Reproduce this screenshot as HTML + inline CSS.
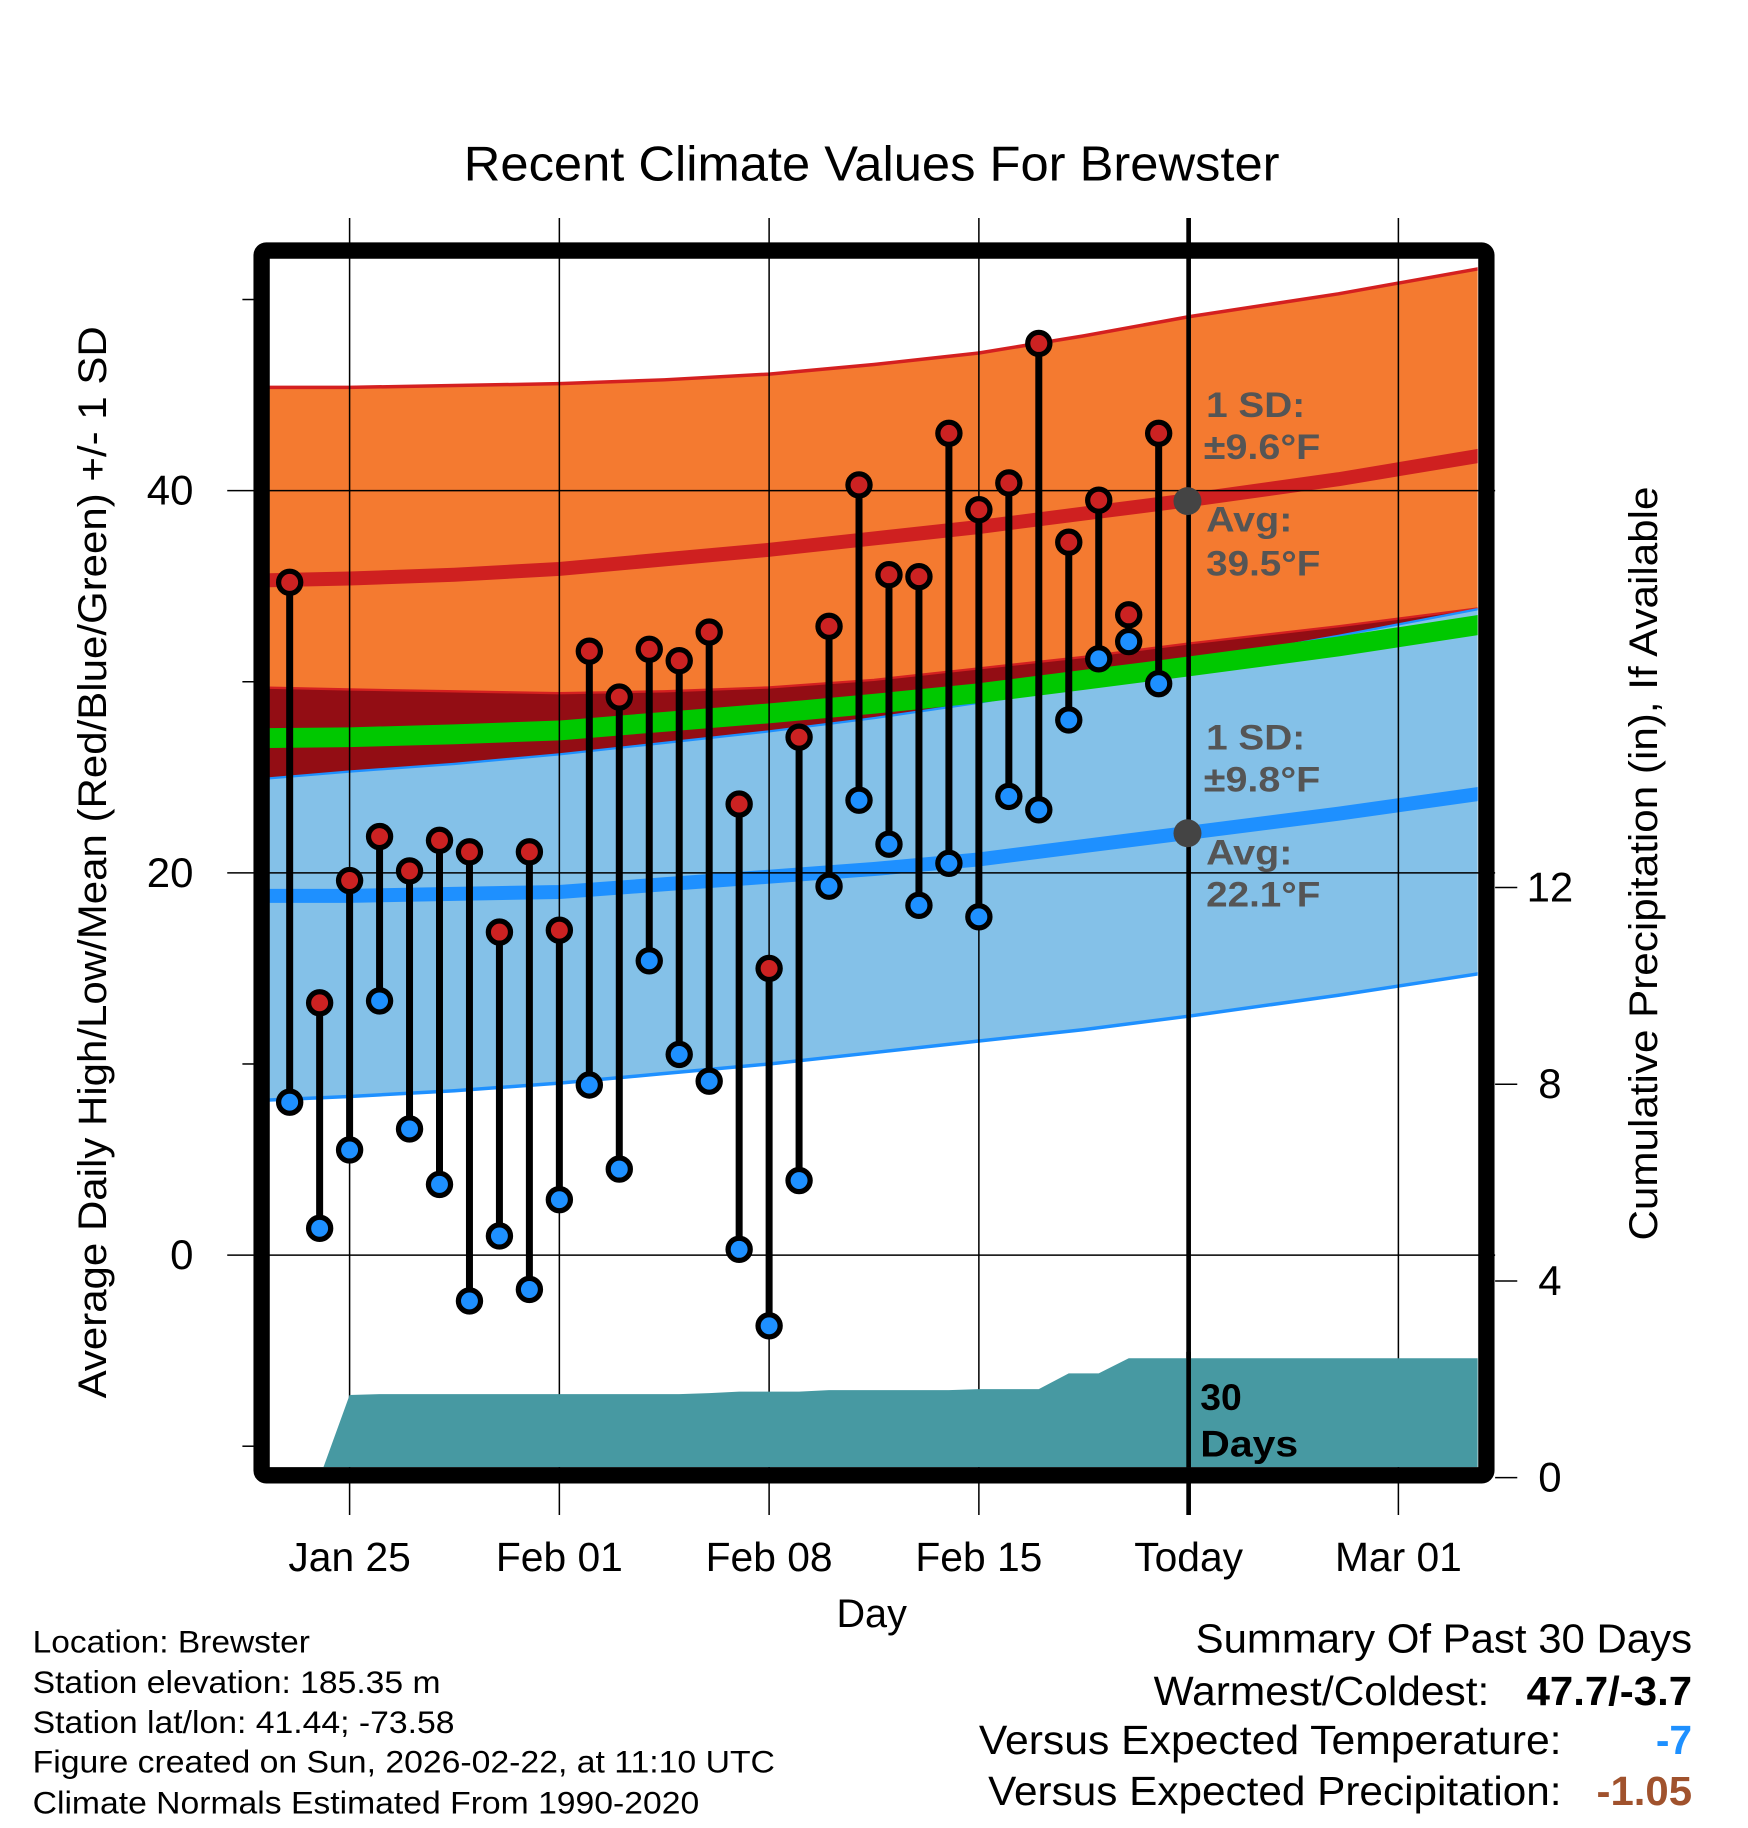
<!DOCTYPE html>
<html><head><meta charset="utf-8">
<style>html,body{margin:0;padding:0;background:#fff}svg{display:block}text{font-family:"Liberation Sans",sans-serif}</style>
</head><body>
<svg id="chart" width="1748" height="1828" viewBox="0 0 1500 1568.6" xmlns="http://www.w3.org/2000/svg">
<rect width="1500" height="1568.6" fill="#fff"/>
<text x="748" y="155" font-size="42" text-anchor="middle" textLength="700" lengthAdjust="spacingAndGlyphs">Recent Climate Values For Brewster</text>
<defs><clipPath id="pc"><rect x="231" y="222" width="1037" height="1037"/></clipPath></defs>
<g id="bands" clip-path="url(#pc)"></g>
<g id="grid"></g>
<g id="precip" clip-path="url(#pc)"></g>
<g id="marks"></g>
<rect x="224.5" y="215" width="1051" height="1051" rx="4" fill="none" stroke="#000" stroke-width="14"/>
<g id="axes"></g>
<g font-weight="bold" font-size="30" fill="#555">
<text x="1035" y="358" textLength="85" lengthAdjust="spacingAndGlyphs">1 SD:</text><text x="1033" y="394" textLength="100" lengthAdjust="spacingAndGlyphs">±9.6°F</text>
<text x="1035" y="456" textLength="74" lengthAdjust="spacingAndGlyphs">Avg:</text><text x="1035" y="494" textLength="98" lengthAdjust="spacingAndGlyphs">39.5°F</text>
<text x="1035" y="643" textLength="85" lengthAdjust="spacingAndGlyphs">1 SD:</text><text x="1033" y="679" textLength="100" lengthAdjust="spacingAndGlyphs">±9.8°F</text>
<text x="1035" y="742" textLength="74" lengthAdjust="spacingAndGlyphs">Avg:</text><text x="1035" y="778" textLength="98" lengthAdjust="spacingAndGlyphs">22.1°F</text>
</g>
<circle cx="1019" cy="430" r="12" fill="#444"/>
<circle cx="1019" cy="715" r="12" fill="#444"/>
<g font-weight="bold" font-size="32" fill="#000">
<text x="1030" y="1210">30</text><text x="1030" y="1250" textLength="84" lengthAdjust="spacingAndGlyphs">Days</text></g>
<text x="748" y="1396" font-size="34" text-anchor="middle">Day</text>
<text transform="translate(91,740) rotate(-90)" font-size="34" text-anchor="middle" textLength="920" lengthAdjust="spacingAndGlyphs">Average Daily High/Low/Mean (Red/Blue/Green) +/- 1 SD</text>
<text transform="translate(1422,741) rotate(-90)" font-size="34" text-anchor="middle" textLength="647" lengthAdjust="spacingAndGlyphs">Cumulative Precipitation (in), If Available</text>
<g font-size="27">
<text x="28" y="1418" textLength="238" lengthAdjust="spacingAndGlyphs">Location: Brewster</text>
<text x="28" y="1453" textLength="350" lengthAdjust="spacingAndGlyphs">Station elevation: 185.35 m</text>
<text x="28" y="1487" textLength="362" lengthAdjust="spacingAndGlyphs">Station lat/lon: 41.44; -73.58</text>
<text x="28" y="1521" textLength="637" lengthAdjust="spacingAndGlyphs">Figure created on Sun, 2026-02-22, at 11:10 UTC</text>
<text x="28" y="1556" textLength="572" lengthAdjust="spacingAndGlyphs">Climate Normals Estimated From 1990-2020</text>
</g>
<g font-size="35" text-anchor="end">
<text x="1452" y="1418" textLength="426" lengthAdjust="spacingAndGlyphs">Summary Of Past 30 Days</text>
<text x="1278" y="1463" textLength="288" lengthAdjust="spacingAndGlyphs">Warmest/Coldest:</text>
<text x="1452" y="1463" font-weight="bold" textLength="142" lengthAdjust="spacingAndGlyphs">47.7/-3.7</text>
<text x="1340" y="1505" textLength="500" lengthAdjust="spacingAndGlyphs">Versus Expected Temperature:</text>
<text x="1452" y="1505" font-weight="bold" fill="#1e90ff">-7</text>
<text x="1340" y="1549" textLength="492" lengthAdjust="spacingAndGlyphs">Versus Expected Precipitation:</text>
<text x="1452" y="1549" font-weight="bold" fill="#a0522d" textLength="82" lengthAdjust="spacingAndGlyphs">-1.05</text>
</g>
</svg>
<script>
// days relative to Jan 25 (0 = Jan 25)
const obsDays = [-2,-1,0,1,2,3,4,5,6,7,8,9,10,11,12,13,14,15,16,17,18,19,20,21,22,23,24,25,26,27];
const highs = [35.2,13.2,19.6,21.9,20.1,21.7,21.1,16.9,21.1,17,31.6,29.2,31.7,31.1,32.6,23.6,15,27.1,32.9,40.3,35.6,35.5,43,39,40.4,47.7,37.3,39.5,33.5,43];
const lows = [8,1.4,5.5,13.3,6.6,3.7,-2.4,1.0,-1.8,2.9,8.9,4.5,15.4,10.5,9.1,0.3,-3.7,3.9,19.3,23.8,21.5,18.3,20.5,17.7,24,23.3,28,31.2,32.1,29.9];
const normDays = [-3,0,3.5,7,10.5,14,17.5,21,24.5,28,33,38];
const highPlus = [45.4,45.4,45.5,45.6,45.8,46.1,46.6,47.2,48.1,49.1,50.3,51.7];
const meanHigh = [35.3,35.4,35.6,35.9,36.4,36.9,37.5,38.1,38.8,39.5,40.6,41.9];
const highMinus = [29.7,29.6,29.5,29.4,29.5,29.7,30.1,30.7,31.3,32.0,32.9,33.9];
const lowPlus = [24.9,25.3,25.7,26.2,26.8,27.4,28.1,28.9,29.9,31.0,32.4,33.9];
const meanLow = [18.8,18.8,18.9,19.0,19.4,19.8,20.2,20.7,21.4,22.1,23.1,24.2];
const lowMinus = [8.1,8.3,8.6,9.0,9.5,10.0,10.6,11.2,11.8,12.5,13.6,14.8];
const precipDays = [-2,-1,0,1,2,3,4,5,6,7,8,9,10,11,12,13,14,15,16,17,18,19,20,21,22,23,24,25,26,27,38];
const precipCum = [0,0,1.68,1.70,1.70,1.70,1.70,1.70,1.70,1.70,1.70,1.70,1.70,1.70,1.72,1.75,1.75,1.75,1.78,1.78,1.78,1.78,1.78,1.80,1.80,1.80,2.12,2.12,2.43,2.43,2.43];
const xTickDays = [0,7,14,21,28,35];
const xTickLabels = ['Jan 25','Feb 01','Feb 08','Feb 15','Today','Mar 01'];
const yTicks = [0,20,40];
const yMinor = [-10,10,30,50];
const y2Ticks = [0,4,8,12];

const NS='http://www.w3.org/2000/svg';
const X=d=>300+25.714*d, Y=t=>1077-16.4*t, Y2=p=>1268-42.2*p;
function mk(tag,attrs,parent){const e=document.createElementNS(NS,tag);for(const k in attrs)e.setAttribute(k,attrs[k]);parent.appendChild(e);return e;}
function pts(days,vals,f){return days.map((d,i)=>X(d).toFixed(1)+','+f(vals[i]).toFixed(1));}
function band(a,b,fill,name,g){const p=pts(normDays,a,Y).concat(pts(normDays,b,Y).reverse());const e=mk('polygon',{points:p.join(' '),fill:fill},g);

}
function line(vals,color,w,name,g){const e=mk('polyline',{points:pts(normDays,vals,Y).join(' '),fill:'none',stroke:color,'stroke-width':w,'stroke-linejoin':'round'},g);

}
const gb=document.getElementById('bands');
band(highPlus,highMinus,'#f47a30','high-sd-band',gb);
band(lowPlus,lowMinus,'#84c1e8','low-sd-band',gb);
band(highMinus,lowPlus,'#930d14','overlap-band',gb);
line(highPlus,'#d42020',3,'high-plus-sd-line',gb);
line(highMinus,'#d42020',2,'high-minus-sd-line',gb);
line(lowPlus,'#1e90ff',2,'low-plus-sd-line',gb);
line(lowMinus,'#1e90ff',3,'low-minus-sd-line',gb);
line(meanHigh.map((v,i)=>(v+meanLow[i])/2),'#00c800',17,'mean-line',gb);
line(meanHigh,'#cf2020',12,'mean-high-line',gb);
line(meanLow,'#1e90ff',12,'mean-low-line',gb);

const gg=document.getElementById('grid');
xTickDays.forEach((d,i)=>{const l=mk('line',{x1:X(d),x2:X(d),y1:187,y2:1300,stroke:'#000','stroke-width':d===28?4:1.3},gg);


const t=mk('text',{x:X(d),y:1348,'font-size':35,'text-anchor':'middle'},gg);t.textContent=xTickLabels[i];

});
yTicks.forEach(v=>{const l=mk('line',{x1:195,x2:1283,y1:Y(v),y2:Y(v),stroke:'#000','stroke-width':1.3},gg);


const t=mk('text',{x:166,y:Y(v)+12,'font-size':36,'text-anchor':'end'},gg);t.textContent=v;

});
yMinor.forEach(v=>{const l=mk('line',{x1:208,x2:220,y1:Y(v),y2:Y(v),stroke:'#000','stroke-width':1.3},gg);

});
y2Ticks.forEach(v=>{const l=mk('line',{x1:1283,x2:1302,y1:Y2(v),y2:Y2(v),stroke:'#000','stroke-width':1.3},gg);


const t=mk('text',{x:1330,y:Y2(v)+12,'font-size':36,'text-anchor':'middle'},gg);t.textContent=v;

});

const gp=document.getElementById('precip');
const pp=pts(precipDays,precipCum,Y2);pp.push(X(38)+','+Y2(0),X(-2)+','+Y2(0));
const pa=mk('polygon',{points:pp.join(' '),fill:'#4799a2'},gp);


mk('line',{x1:X(28),x2:X(28),y1:1160,y2:1265,stroke:'#000','stroke-width':4},gp);

const gm=document.getElementById('marks');
obsDays.forEach((d,i)=>{const x=X(d);
const s=mk('line',{x1:x,x2:x,y1:Y(highs[i]),y2:Y(lows[i]),stroke:'#000','stroke-width':6},gm);


const h=mk('circle',{cx:x,cy:Y(highs[i]),r:9.5,fill:'#cc2222',stroke:'#000','stroke-width':4.5},gm);


const lo=mk('circle',{cx:x,cy:Y(lows[i]),r:9.5,fill:'#1e90ff',stroke:'#000','stroke-width':4.5},gm);

});
</script>
</body></html>
